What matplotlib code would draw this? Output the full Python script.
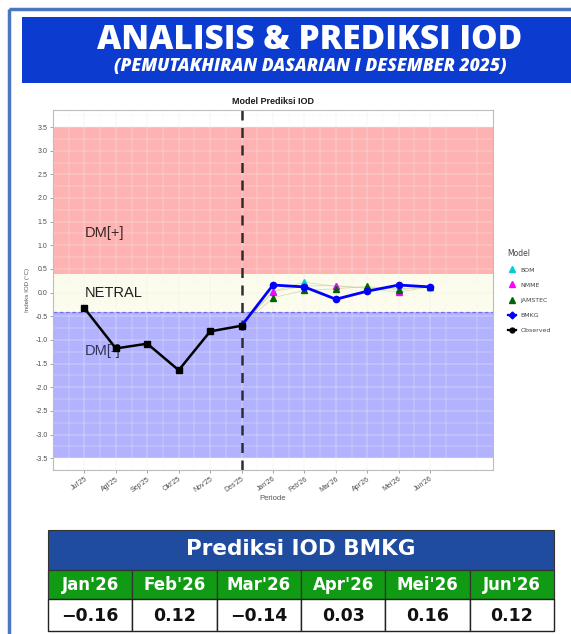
import matplotlib
matplotlib.use("Agg")
import matplotlib.pyplot as plt
from matplotlib.patches import Rectangle
from matplotlib.lines import Line2D
import numpy as np

# ---------------- data ----------------
periods = ["Jul'25", "Agt'25", "Sep'25", "Okt'25", "Nov'25", "Des'25",
           "Jan'26", "Feb'26", "Mar'26", "Apr'26", "Mei'26", "Jun'26"]
observed = [-0.33, -1.18, -1.08, -1.64, -0.82, -0.70]          # Jul'25..Des'25
fc_periods = ["Des'25", "Jan'26", "Feb'26", "Mar'26", "Apr'26", "Mei'26", "Jun'26"]
bmkg = [-0.70, 0.16, 0.12, -0.14, 0.03, 0.16, 0.12]
bom = [-0.70, 0.03, 0.22, 0.13, 0.10, 0.08, 0.12]
nmme = [-0.70, 0.02, 0.14, 0.15, 0.09, 0.01, 0.12]
jamstec = [-0.70, -0.11, 0.05, 0.08, 0.13, 0.06, 0.12]

bands_lo = [0.4, -0.4, -3.5]
bands_hi = [3.5, 0.4, -0.4]
band_names = ["DM[+]", "NETRAL", "DM[-]"]
band_text_y = [1.26, 0.0, -1.24]
y_ticks = [3.5, 3.0, 2.5, 2.0, 1.5, 1.0, 0.5, 0.0, -0.5, -1.0, -1.5, -2.0, -2.5, -3.0, -3.5]

table_months = ["Jan'26", "Feb'26", "Mar'26", "Apr'26", "Mei'26", "Jun'26"]
table_values = [-0.16, 0.12, -0.14, 0.03, 0.16, 0.12]

# ---------------- figure ----------------
W, H = 571, 634
fig = plt.figure(figsize=(W / 100, H / 100), dpi=100)
fig.patch.set_facecolor("white")

def rect(x0, y0, x1, y1):
    return [x0 / W, 1 - y1 / H, (x1 - x0) / W, (y1 - y0) / H]

# overlay axes for decorations (pixel coords)
ov = fig.add_axes([0, 0, 1, 1], zorder=0)
ov.set_xlim(0, W)
ov.set_ylim(H, 0)
ov.axis("off")

# outer frame
ov.add_patch(Rectangle((9, 9), W + 20, H + 20, fill=False, ec="#4a78c0", lw=2.5))
# banner
ov.add_patch(Rectangle((22, 17), W, 66, fc="#0b3ccf", ec="none"))
ov.text(310, 40, "ANALISIS & PREDIKSI IOD", color="white", fontsize=24,
        fontweight="heavy", family="Open Sans", ha="center", va="center")
ov.text(310, 66, "(PEMUTAKHIRAN DASARIAN I DESEMBER 2025)", color="white", fontsize=12.6,
        fontweight="heavy", fontstyle="italic", family="Open Sans", ha="center", va="center")

# table
tx0, tx1 = 48, 554
ov.add_patch(Rectangle((tx0, 530), tx1 - tx0, 40, fc="#1f4c9e", ec="#333333", lw=0.8))
ov.text((tx0 + tx1) / 2, 549, "Prediksi IOD BMKG", color="white", fontsize=15.5,
        fontweight="bold", family="DejaVu Sans", ha="center", va="center")
ncol = len(table_months)
cw = (tx1 - tx0) / ncol
for i, (m, v) in enumerate(zip(table_months, table_values)):
    cx = tx0 + i * cw
    ov.add_patch(Rectangle((cx, 570), cw, 29, fc="#119a14", ec="#333333", lw=0.9))
    ov.add_patch(Rectangle((cx, 599), cw, 32, fc="white", ec="#222222", lw=1.0))
    ov.text(cx + cw / 2, 585, m, color="white", fontsize=12, fontweight="bold",
            family="DejaVu Sans", ha="center", va="center")
    s = f"{v:.2f}".replace("-", "\u2212")
    ov.text(cx + cw / 2, 616, s, color="#111111", fontsize=12.5, fontweight="bold",
            family="DejaVu Sans", ha="center", va="center")

# ---------------- main plot ----------------
ax = fig.add_axes(rect(53, 110, 493, 470), zorder=1)
ax.set_facecolor("white")
x_all = np.arange(len(periods))
idx = {p: i for i, p in enumerate(periods)}

ax.set_xlim(-1.0, 13.0)
ax.set_ylim(-3.73, 3.86)

# grid
ax.set_yticks(y_ticks)
ax.set_yticks(np.arange(-3.75, 3.8, 0.5), minor=True)
ax.set_xticks(x_all)
ax.set_xticks(np.arange(-0.5, 12.6, 1.0), minor=True)
ax.grid(True, which="major", color="#ececec", lw=0.35, zorder=0)
ax.grid(True, which="minor", color="#f4f4f4", lw=0.25, zorder=0)

band_colors = [(1, 0, 0, 0.3), (0.98, 0.98, 0.85, 0.45), (0, 0, 1, 0.3)]
for lo, hi, c in zip(bands_lo, bands_hi, band_colors):
    ax.axhspan(lo, hi, color=c, lw=0, zorder=1)

text_colors = ["#3a2525", "#202020", "#33335a"]
for name, ty, tc in zip(band_names, band_text_y, text_colors):
    ax.text(0.0, ty, name, fontsize=10.5, family="Liberation Sans", color=tc,
            ha="left", va="center", zorder=3)

ax.axhline(-0.4, color="#6f6fee", lw=0.9, ls=(0, (3, 2)), zorder=2)
ax.axvline(idx["Des'25"], color="#2e2e2e", lw=1.8, ls=(0, (4, 3)), zorder=2)

fx = [idx[p] for p in fc_periods]
ox = x_all[:len(observed)]

for vals, col in [(bom, "#00cdcd"), (nmme, "#ff00ff"), (jamstec, "#006400")]:
    ax.plot(fx, vals, color="#c8d0a0", lw=0.6, alpha=0.7, zorder=3)
for vals, col in [(bom, "#00cdcd"), (nmme, "#ff00ff"), (jamstec, "#006400")]:
    ax.plot(fx[1:], vals[1:], ls="none", marker="^", ms=5, color=col, zorder=4)

ax.plot(fx, bmkg, color="#0000ff", lw=2.0, marker="o", ms=4.5, zorder=5)
ax.plot(ox, observed, color="black", lw=1.8, marker="s", ms=4.5, zorder=6)

for sp in ax.spines.values():
    sp.set_color("#bdbdbd")
    sp.set_linewidth(0.8)

ax.set_yticklabels([f"{t:.1f}" for t in y_ticks], fontsize=5, color="#4d4d4d",
                   family="Liberation Sans")
ax.set_xticklabels(periods, fontsize=5, color="#4d4d4d", rotation=35, ha="right",
                   rotation_mode="anchor", family="Liberation Sans")
ax.tick_params(axis="both", which="major", length=2.5, width=0.5, color="#7f7f7f", pad=1.5)
ax.tick_params(axis="both", which="minor", length=0)
ax.set_title("Model Prediksi IOD", fontsize=6.5, fontweight="bold", family="Liberation Sans",
             color="#1a1a1a", pad=4)
ax.set_xlabel("Periode", fontsize=5.5, color="#555555", family="Liberation Sans", labelpad=1)
ax.set_ylabel("Indeks IOD (\u00b0C)", fontsize=4.5, color="#555555", family="Liberation Sans",
              labelpad=4)

handles = [
    Line2D([], [], ls="none", marker="^", ms=4.5, color="#00cdcd"),
    Line2D([], [], ls="none", marker="^", ms=4.5, color="#ff00ff"),
    Line2D([], [], ls="none", marker="^", ms=4.5, color="#006400"),
    Line2D([], [], color="#0000ff", lw=1.6, marker="D", ms=3.5),
    Line2D([], [], color="black", lw=1.6, marker="o", ms=3.5),
]
leg = fig.legend(handles, ["BOM", "NMME", "JAMSTEC", "BMKG", "Observed"], title="Model",
                 loc="upper left", bbox_to_anchor=(505 / W, 1 - 246 / H), frameon=False,
                 fontsize=4.5, title_fontsize=5.5, handlelength=1.4, labelspacing=1.55,
                 handletextpad=0.7, borderaxespad=0)
leg._legend_box.align = "left"
for t in leg.get_texts():
    t.set_color("#444444")
leg.get_title().set_color("#444444")

fig.savefig("out.png", dpi=100, facecolor="white")
